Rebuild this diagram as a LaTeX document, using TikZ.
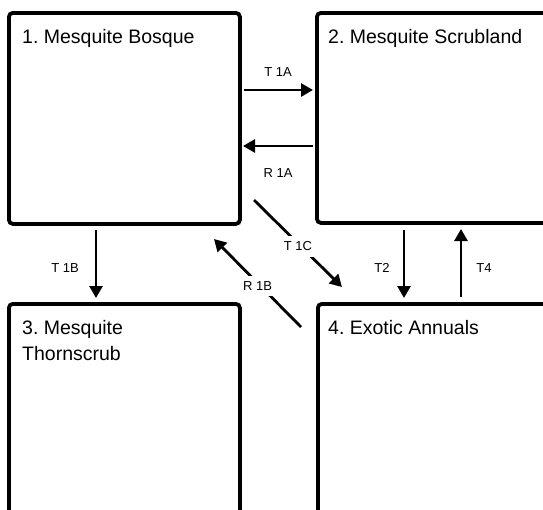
\documentclass[tikz,border=0pt]{standalone}
\usepackage{fontspec}
\setmainfont{Liberation Sans}
\usetikzlibrary{arrows.meta}
\frenchspacing
\begin{document}
\begin{tikzpicture}[x=1pt,y=-1pt,
  box/.style={draw=black,line width=3.8pt,rounded corners=4pt,fill=white,anchor=north west,inner sep=0pt},
  title/.style={font=\fontsize{19.5}{26}\selectfont,anchor=base west,inner sep=0pt,align=left},
  lab/.style={font=\fontsize{13}{15}\selectfont,inner sep=0pt},
  cutlab/.style={lab,fill=white,inner xsep=4pt,inner ysep=6pt,yshift=-3pt},
  arr/.style={line width=2.8pt,-{Triangle[length=12pt,width=13pt]}}]
\useasboundingbox (0,0) rectangle (543,509);
\clip (0,0) rectangle (543,509);
\fill[white] (0,0) rectangle (543,509);
% boxes
\node[box,minimum width=231pt,minimum height=211pt] (b1) at (7,11) {};
\node[box,minimum width=260pt,minimum height=210pt] (b2) at (315,11) {};
\node[box,minimum width=231pt,minimum height=240pt] (b3) at (7,302) {};
\node[box,minimum width=260pt,minimum height=240pt] (b4) at (316,302) {};
% titles
\node[title] (t1) at (22,43) {1. Mesquite Bosque};
\node[title] (t2) at (328,43) {2. Mesquite Scrubland};
\node[title] (t3) at (22,360) {3. Mesquite\\Thornscrub};
\node[title] (t4) at (328,334) {4. Exotic Annuals};
% arrow end points
\coordinate (a1s) at (244,90);  \coordinate (a1e) at (313,90);
\coordinate (r1s) at (313,146); \coordinate (r1e) at (243,146);
\coordinate (c1s) at (254,200); \coordinate (c1e) at (342,287);
\coordinate (rbs) at (301,327); \coordinate (rbe) at (214,239);
\coordinate (bbs) at (96,230);  \coordinate (bbe) at (96,298);
\coordinate (t2s) at (404,230); \coordinate (t2e) at (404,298);
\coordinate (t4s) at (461,297); \coordinate (t4e) at (461,229);
% arrows
\draw[arr] (a1s) -- (a1e);
\draw[arr] (r1s) -- (r1e);
\draw[arr] (c1s) -- node[cutlab] (lc1) {T 1C} (c1e);
\draw[arr] (rbs) -- node[cutlab] (lrb) {R 1B} (rbe);
\draw[arr] (bbs) -- (bbe);
\draw[arr] (t2s) -- (t2e);
\draw[arr] (t4s) -- (t4e);
% labels
\node[lab] (la1) at (278,72) {T 1A};
\node[lab] (lr1) at (278,173) {R 1A};
\node[lab] (lb1) at (65,268) {T 1B};
\node[lab] (lt2) at (382,268) {T2};
\node[lab] (lt4) at (484,268) {T4};
\end{tikzpicture}
\end{document}
